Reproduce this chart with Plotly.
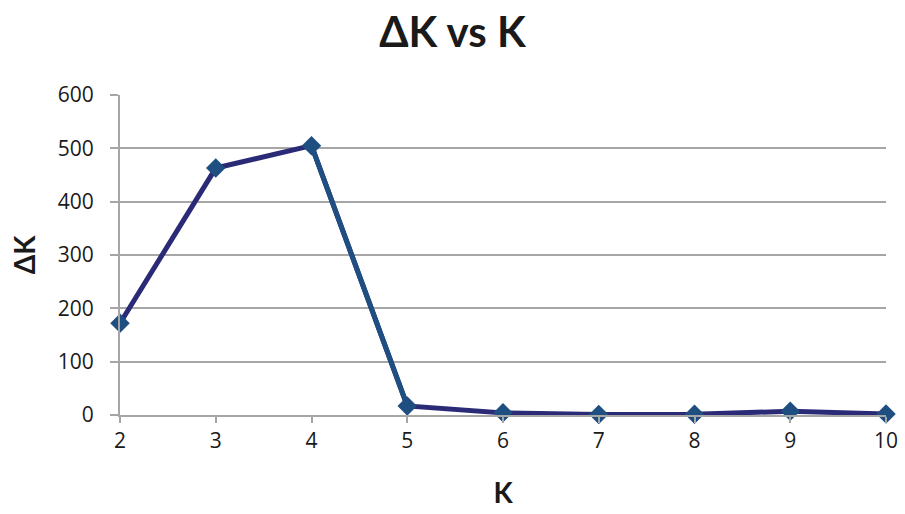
import plotly.graph_objects as go

k_values = [2, 3, 4, 5, 6, 7, 8, 9, 10]
delta_k = [172, 463, 505, 17, 4, 1, 1.5, 7, 2]
y_ticks = [0, 100, 200, 300, 400, 500, 600]

navy = "#2b2a76"
steel = "#1f4e80"
grid = "#a6a6a6"
text_color = "#1a1a1a"
tick_family = "'Open Sans', sans-serif"
title_family = "Lato, 'Open Sans', sans-serif"

fig = go.Figure()

# main connecting line
fig.add_trace(go.Scatter(
    x=k_values, y=delta_k, mode="lines",
    line=dict(color=navy, width=5), hoverinfo="skip", showlegend=False,
))
# steep drop segment between K=4 and K=5 in the lighter blue
fig.add_trace(go.Scatter(
    x=k_values[2:4], y=delta_k[2:4], mode="lines",
    line=dict(color=steel, width=5), hoverinfo="skip", showlegend=False,
))
# diamond markers
fig.add_trace(go.Scatter(
    x=k_values, y=delta_k, mode="markers",
    marker=dict(symbol="diamond", size=15, color=steel),
    showlegend=False, cliponaxis=False,
))

fig.update_layout(
    width=905, height=514,
    margin=dict(l=120, r=19, t=95, b=99, autoexpand=False),
    paper_bgcolor="white", plot_bgcolor="white",
    font=dict(family=tick_family, color=text_color, size=20),
    title=dict(text="<b>ΔK vs K</b>", x=0.5, xanchor="center",
               y=0.965, yanchor="top",
               font=dict(size=42, family=title_family, color=text_color)),
)

fig.update_xaxes(
    range=[2, 10], tickmode="array", tickvals=k_values,
    ticktext=[str(k) for k in k_values],
    showgrid=False, zeroline=False,
    showline=True, linecolor=grid, linewidth=2,
    ticks="outside", ticklen=6, tickcolor=grid, tickwidth=2,
    tickfont=dict(size=21, family=tick_family, color=text_color),
    title=dict(text="<b>K</b>", font=dict(size=28, family=title_family, color=text_color),
               standoff=30),
)
fig.update_yaxes(
    range=[0, 600], tickmode="array", tickvals=y_ticks,
    showgrid=True, gridcolor=grid, gridwidth=2,
    zeroline=False,
    showline=True, linecolor=grid, linewidth=2,
    ticks="outside", ticklen=8, tickcolor=grid, tickwidth=2,
    ticklabelstandoff=12,
    tickfont=dict(size=21, family=tick_family, color=text_color),
    title=dict(text="<b>ΔK</b>", font=dict(size=28, family=title_family, color=text_color),
               standoff=14),
)

fig.write_html("out.html")
